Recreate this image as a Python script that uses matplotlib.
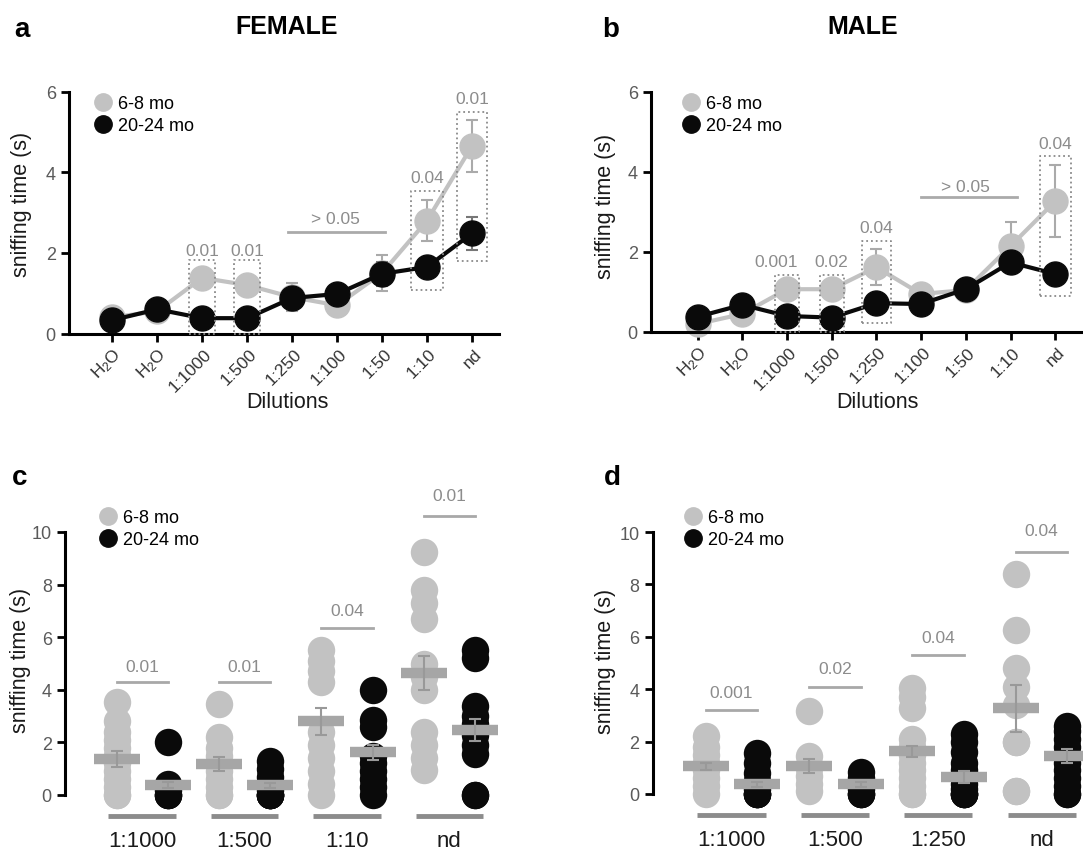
import numpy as np
import matplotlib
matplotlib.use("Agg")
import matplotlib.pyplot as plt
from matplotlib.lines import Line2D
import matplotlib.transforms as mtrans

plt.rcParams['font.family'] = ['Liberation Sans', 'DejaVu Sans']
plt.rcParams['mathtext.fontset'] = 'custom'
plt.rcParams['mathtext.rm'] = 'Liberation Sans'
plt.rcParams['mathtext.it'] = 'Liberation Sans'

##############################################################################

# Data

dilutions = ['H$_2$O', 'H$_2$O', '1:1000', '1:500', '1:250', '1:100',
             '1:50', '1:10', 'nd']

# panel a (female), means and sem
a_young = [0.4, 0.55, 1.38, 1.2, 0.9, 0.7, 1.5, 2.8, 4.65]
a_young_err = [0.1, 0.1, 0.15, 0.15, 0.35, 0.15, 0.45, 0.5, 0.65]
a_old = [0.33, 0.6, 0.38, 0.38, 0.88, 0.98, 1.48, 1.65, 2.48]
a_old_err = [0.1, 0.1, 0.1, 0.1, 0.15, 0.15, 0.3, 0.25, 0.4]
a_box_idx = [2, 3, 7, 8]
a_box_lo = [0, 0, 1.07, 1.8]
a_box_hi = [1.82, 1.82, 3.53, 5.5]
a_box_w = [0.29, 0.29, 0.35, 0.34]
a_p = ['0.01', '0.01', '0.04', '0.01']
a_p_x = [2, 3, 7, 8]
a_p_y = [2.07, 2.07, 3.88, 5.82]

# panel b (male)
b_young = [0.2, 0.45, 1.07, 1.07, 1.62, 0.95, 1.05, 2.15, 3.27]
b_young_err = [0.1, 0.1, 0.15, 0.15, 0.45, 0.15, 0.15, 0.6, 0.9]
b_old = [0.38, 0.68, 0.4, 0.36, 0.72, 0.7, 1.07, 1.74, 1.45]
b_old_err = [0.1, 0.1, 0.1, 0.1, 0.15, 0.1, 0.1, 0.2, 0.15]
b_box_idx = [2, 3, 4, 8]
b_box_lo = [0, 0, 0.23, 0.89]
b_box_hi = [1.42, 1.42, 2.28, 4.39]
b_box_w = [0.26, 0.27, 0.33, 0.35]
b_p = ['0.001', '0.02', '0.04', '0.04']
b_p_x = [1.75, 3, 4, 8]
b_p_y = [1.77, 1.77, 2.62, 4.7]

# panel c (female, individual points)
c_groups = ['1:1000', '1:500', '1:10', 'nd']
c_young_pts = [[0, 0, 0.3, 0.6, 0.9, 1.2, 1.5, 1.8, 2.1, 2.4, 2.8, 3.55],
               [0, 0, 0.3, 0.6, 0.9, 1.2, 1.5, 1.8, 2.2, 3.45],
               [0, 0.4, 0.9, 1.4, 1.9, 2.4, 4.3, 4.7, 5.1, 5.5],
               [0.95, 1.4, 1.9, 2.4, 4.0, 4.5, 5.0, 6.7, 7.3, 7.8, 9.25]]
c_old_pts = [[0, 0, 0, 0.2, 0.4, 2.0],
             [0, 0, 0, 0, 0, 0.2, 0.4, 0.7, 1.0, 1.3],
             [0, 0.3, 0.6, 0.9, 1.2, 1.5, 2.6, 2.85, 4.0],
             [0, 0, 1.55, 1.9, 2.3, 2.7, 3.0, 3.4, 5.2, 5.5]]
c_young_mean = [1.37, 1.18, 2.8, 4.65]
c_young_err = [0.3, 0.25, 0.5, 0.65]
c_old_mean = [0.37, 0.37, 1.62, 2.47]
c_old_err = [0.12, 0.1, 0.3, 0.42]
c_p = ['0.01', '0.01', '0.04', '0.01']
c_p_y = [4.3, 4.3, 6.35, 10.6]

# panel d (male, individual points)
d_groups = ['1:1000', '1:500', '1:250', 'nd']
d_young_pts = [[0, 0.3, 0.6, 0.9, 1.2, 1.5, 1.8, 2.2],
               [0.1, 0.4, 0.7, 1.0, 1.45, 3.15],
               [0, 0, 0.3, 0.6, 0.9, 1.2, 1.5, 1.8, 2.1, 3.3, 3.7, 4.05],
               [0.1, 0.1, 2.0, 2.0, 3.4, 4.1, 4.8, 6.25, 8.4]]
d_old_pts = [[0, 0, 0, 0, 0.2, 0.5, 0.8, 1.2, 1.55],
             [0, 0, 0, 0.2, 0.4, 0.6, 0.85],
             [0, 0, 0, 0, 0.2, 0.4, 0.6, 0.9, 1.2, 1.6, 2.0, 2.3],
             [0, 0, 0.3, 0.6, 0.9, 1.2, 1.5, 1.8, 2.1, 2.4, 2.6]]
d_young_mean = [1.05, 1.07, 1.63, 3.27]
d_young_err = [0.15, 0.27, 0.2, 0.9]
d_old_mean = [0.37, 0.37, 0.65, 1.45]
d_old_err = [0.1, 0.1, 0.22, 0.28]
d_p = ['0.001', '0.02', '0.04', '0.04']
d_p_y = [3.22, 4.08, 5.29, 9.24]

##############################################################################

# Style

W, H = 1083, 853
GRAY = '#c2c2c2'
BLACK = '#0a0a0a'
MEANC = '#a6a6a6'
ERRC = '#999999'
PTXT = '#8c8c8c'
TICKC = '#5a5a5a'

fig = plt.figure(figsize=(W/100, H/100), dpi=100)


def axes_px(x0, y0, x1, y1):
    # x0/x1 left/right, y0 top, y1 bottom, in pixels from the top-left
    return fig.add_axes([x0/W, 1 - y1/H, (x1 - x0)/W, (y1 - y0)/H])


def ftext(x, y, s, **kw):
    fig.text(x/W, 1 - y/H, s, **kw)


def style_axes(ax, bottom=True):
    for side in ['top', 'right']:
        ax.spines[side].set_visible(False)
    ax.spines['left'].set_linewidth(2.2)
    ax.spines['bottom'].set_linewidth(2.2)
    if not bottom:
        ax.spines['bottom'].set_visible(False)
        ax.set_xticks([])
    ax.tick_params(direction='out', length=6, width=2, colors='black',
                   labelcolor=TICKC, labelsize=13)
    ax.set_facecolor('none')


def add_legend(ax, x, y):
    hd = [Line2D([], [], marker='o', ls='', ms=12.5, color=GRAY),
          Line2D([], [], marker='o', ls='', ms=12.5, color=BLACK)]
    ax.legend(hd, ['6-8 mo', '20-24 mo'], loc='upper left',
              bbox_to_anchor=(x/W, 1 - y/H), bbox_transform=fig.transFigure,
              frameon=False, handlelength=1.0, handletextpad=0.35,
              labelspacing=0.28, borderpad=0, borderaxespad=0, fontsize=13)


def line_panel(ax, young, yerr, old, oerr, bidx, blo, bhi, bw, pt, px, py,
               sig_x, sig_y, sig_tx, sig_ty):
    x = np.arange(len(dilutions))
    # error bars sit behind the markers
    ax.errorbar(x, young, yerr=yerr, fmt='none', ecolor='#aaaaaa',
                elinewidth=1.5, capsize=4, capthick=1.5, zorder=1)
    ax.plot(x, young, '-o', color=GRAY, lw=3, ms=18, zorder=2, clip_on=False)
    ax.errorbar(x, old, yerr=oerr, fmt='none', ecolor='#777777',
                elinewidth=1.5, capsize=4, capthick=1.5, zorder=3)
    ax.plot(x, old, '-o', color=BLACK, lw=3, ms=18, zorder=4, clip_on=False)
    for i, lo, hi, w in zip(bidx, blo, bhi, bw):
        ax.plot([i - w, i + w, i + w, i - w, i - w], [lo, lo, hi, hi, lo],
                ls=':', color='#8a8a8a', lw=1.3, zorder=6, clip_on=False)
    for s, tx, ty in zip(pt, px, py):
        ax.text(tx, ty, s, ha='center', va='center', color=PTXT,
                fontsize=12.5)
    ax.plot(sig_x, [sig_y, sig_y], color='#aaaaaa', lw=2)
    ax.text(sig_tx, sig_ty, '> 0.05', ha='center', va='center',
            color=PTXT, fontsize=12.5)
    ax.set_ylim(0, 6)
    ax.set_yticks([0, 2, 4, 6])
    ax.set_xticks(x)
    ax.set_xticklabels(dilutions, rotation=45, ha='right', va='center',
                       rotation_mode='anchor', fontsize=12.5, color='#333333')
    off = mtrans.ScaledTranslation(5/72, -3/72, fig.dpi_scale_trans)
    for lbl in ax.get_xticklabels():
        lbl.set_transform(lbl.get_transform() + off)


def dot_panel(ax, groups, ypts, opts, ym, ye, om, oe, pt, py, poff):
    for g in range(len(groups)):
        ax.scatter(np.full(len(ypts[g]), g - 0.25), ypts[g], s=390,
                   color=GRAY, lw=0, zorder=2, clip_on=False)
        ax.scatter(np.full(len(opts[g]), g + 0.25), opts[g], s=390,
                   color=BLACK, lw=0, zorder=2, clip_on=False)
        ax.plot([g - 0.25, g + 0.25], [py[g], py[g]], color='#a8a8a8', lw=2,
                clip_on=False)
        ax.text(g, py[g] + poff[g], pt[g], ha='center', va='center',
                color=PTXT, fontsize=12.5, clip_on=False)
        ax.plot([g - 0.33, g + 0.33], [-0.8, -0.8], color='#8c8c8c', lw=3.5,
                solid_capstyle='butt', clip_on=False)
        ax.text(g, -1.72, groups[g], ha='center', va='center',
                color='#1a1a1a', fontsize=16)
    gx = np.arange(len(groups))
    for xs, m, e in [(gx - 0.25, ym, ye), (gx + 0.25, om, oe)]:
        ax.plot(xs, m, ls='', marker='_', ms=33, mew=7.5, color=MEANC,
                zorder=3, clip_on=False)
        ax.errorbar(xs, m, yerr=e, fmt='none', ecolor=ERRC, elinewidth=1.5,
                    capsize=4, capthick=1.5, zorder=4, clip_on=False)
    ax.set_ylim(0, 10)
    ax.set_yticks([0, 2, 4, 6, 8, 10])


##############################################################################

# Panels a and b

ax_a = axes_px(69, 92.5, 499, 334.5)
style_axes(ax_a)
ax_a.set_xlim(-0.96, 8.6)
line_panel(ax_a, a_young, a_young_err, a_old, a_old_err, a_box_idx,
           a_box_lo, a_box_hi, a_box_w, a_p, a_p_x, a_p_y,
           [3.92, 6.06], 2.52, 4.97, 2.86)
add_legend(ax_a, 94, 96)

ax_b = axes_px(651, 93, 1083, 333)
style_axes(ax_b)
ax_b.set_xlim(-1.04, 8.62)
line_panel(ax_b, b_young, b_young_err, b_old, b_old_err, b_box_idx,
           b_box_lo, b_box_hi, b_box_w, b_p, b_p_x, b_p_y,
           [5.0, 7.15], 3.37, 6.0, 3.64)
add_legend(ax_b, 682, 96)

# Panels c and d

ax_c = axes_px(65, 533, 526, 796)
style_axes(ax_c, bottom=False)
ax_c.set_xlim(-0.754, 3.749)
dot_panel(ax_c, c_groups, c_young_pts, c_old_pts, c_young_mean, c_young_err,
          c_old_mean, c_old_err, c_p, c_p_y, [0.6, 0.6, 0.65, 0.8])
add_legend(ax_c, 99, 510)

ax_d = axes_px(652.5, 533, 1083, 795)
style_axes(ax_d, bottom=False)
ax_d.set_xlim(-0.764, 3.40)
dot_panel(ax_d, d_groups, d_young_pts, d_old_pts, d_young_mean, d_young_err,
          d_old_mean, d_old_err, d_p, d_p_y, [0.65, 0.7, 0.68, 0.82])
add_legend(ax_d, 684, 510)

# labels and titles
for x, y in [(22, 204), (606, 206), (21, 660), (606, 661)]:
    ftext(x, y, 'sniffing time (s)', rotation=90, ha='center', va='center',
          fontsize=15.5, color='#1a1a1a')
for x in [287.5, 877]:
    ftext(x, 403, 'Dilutions', ha='center', va='center', fontsize=15.5,
          color='#1a1a1a')
ftext(287, 34, 'FEMALE', ha='center', va='baseline', fontsize=18,
      weight='bold')
ftext(863, 34, 'MALE', ha='center', va='baseline', fontsize=18,
      weight='bold')
for s, x, y in [('a', 22, 37), ('b', 611, 37), ('c', 20, 485), ('d', 612, 485)]:
    ftext(x, y, s, ha='center', va='baseline', fontsize=20, weight='bold')

fig.savefig('out.png', dpi=100)
